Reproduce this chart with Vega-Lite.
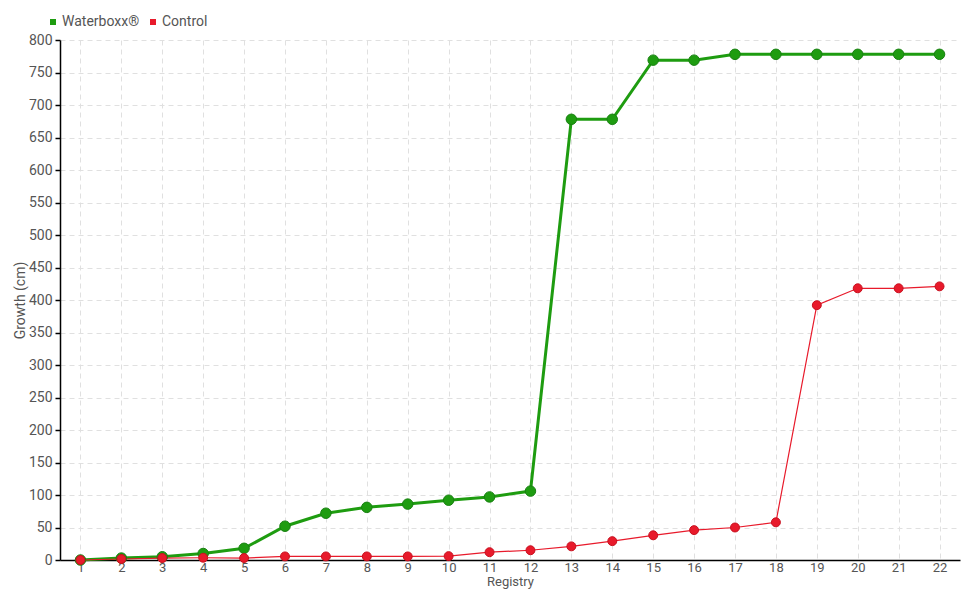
{
  "$schema": "https://vega.github.io/schema/vega-lite/v6.json",
  "width": 900,
  "height": 520,
  "autosize": {"type": "none"},
  "padding": {"left": 60, "top": 40, "right": 20, "bottom": 40},
  "background": "white",
  "config": {
    "view": {"stroke": null},
    "font": "Roboto",
    "axis": {"labelFont": "Roboto", "titleFont": "Roboto", "labelColor": "#555", "titleColor": "#555", "labelFontSize": 14, "titleFontSize": 14, "titleFontWeight": "normal", "gridColor": "#e0e0e0", "gridDash": [5, 4], "domainColor": "#000", "tickColor": "#000"}
  },
  "data": {
    "values": [
      {"registry": 1, "series": "Waterboxx®", "growth": 0},
      {"registry": 2, "series": "Waterboxx®", "growth": 3},
      {"registry": 3, "series": "Waterboxx®", "growth": 5},
      {"registry": 4, "series": "Waterboxx®", "growth": 10},
      {"registry": 5, "series": "Waterboxx®", "growth": 18},
      {"registry": 6, "series": "Waterboxx®", "growth": 52},
      {"registry": 7, "series": "Waterboxx®", "growth": 72},
      {"registry": 8, "series": "Waterboxx®", "growth": 81},
      {"registry": 9, "series": "Waterboxx®", "growth": 86},
      {"registry": 10, "series": "Waterboxx®", "growth": 92},
      {"registry": 11, "series": "Waterboxx®", "growth": 97},
      {"registry": 12, "series": "Waterboxx®", "growth": 106},
      {"registry": 13, "series": "Waterboxx®", "growth": 678},
      {"registry": 14, "series": "Waterboxx®", "growth": 678},
      {"registry": 15, "series": "Waterboxx®", "growth": 769},
      {"registry": 16, "series": "Waterboxx®", "growth": 769},
      {"registry": 17, "series": "Waterboxx®", "growth": 778},
      {"registry": 18, "series": "Waterboxx®", "growth": 778},
      {"registry": 19, "series": "Waterboxx®", "growth": 778},
      {"registry": 20, "series": "Waterboxx®", "growth": 778},
      {"registry": 21, "series": "Waterboxx®", "growth": 778},
      {"registry": 22, "series": "Waterboxx®", "growth": 778},
      {"registry": 1, "series": "Control", "growth": 0},
      {"registry": 2, "series": "Control", "growth": 1.5},
      {"registry": 3, "series": "Control", "growth": 3},
      {"registry": 4, "series": "Control", "growth": 3.5},
      {"registry": 5, "series": "Control", "growth": 3},
      {"registry": 6, "series": "Control", "growth": 5.5},
      {"registry": 7, "series": "Control", "growth": 5.5},
      {"registry": 8, "series": "Control", "growth": 5.5},
      {"registry": 9, "series": "Control", "growth": 5.5},
      {"registry": 10, "series": "Control", "growth": 6},
      {"registry": 11, "series": "Control", "growth": 12},
      {"registry": 12, "series": "Control", "growth": 15},
      {"registry": 13, "series": "Control", "growth": 21},
      {"registry": 14, "series": "Control", "growth": 29},
      {"registry": 15, "series": "Control", "growth": 38},
      {"registry": 16, "series": "Control", "growth": 46},
      {"registry": 17, "series": "Control", "growth": 50},
      {"registry": 18, "series": "Control", "growth": 58},
      {"registry": 19, "series": "Control", "growth": 392},
      {"registry": 20, "series": "Control", "growth": 418},
      {"registry": 21, "series": "Control", "growth": 418},
      {"registry": 22, "series": "Control", "growth": 421}
    ]
  },
  "encoding": {
    "x": {"field": "registry", "type": "ordinal", "sort": "ascending",
      "scale": {"type": "point", "padding": 0.5},
      "axis": {"title": "Registry", "labelAngle": 0, "tickSize": 0, "labelPadding": 1, "labelFontSize": 13, "titleY": 15, "titleBaseline": "top", "titleFontSize": 13, "grid": true, "domainWidth": 1.5}},
    "y": {"field": "growth", "type": "quantitative",
      "scale": {"domain": [0, 800], "nice": false},
      "axis": {"title": "Growth (cm)", "values": [0,50,100,150,200,250,300,350,400,450,500,550,600,650,700,750,800], "tickSize": 5, "labelPadding": 3, "titleX": -33, "titleY": 260, "titleAngle": -90, "titleBaseline": "bottom", "titleAlign": "center", "grid": true, "domainWidth": 1.5, "tickWidth": 1.5}},
    "color": {"field": "series", "type": "nominal",
      "scale": {"domain": ["Waterboxx®", "Control"], "range": ["#1e9c10", "#e81a2b"]},
      "legend": {"title": null, "orient": "none", "legendX": -14, "legendY": -25, "direction": "horizontal", "symbolType": "square", "symbolSize": 36, "symbolStrokeWidth": 0, "labelFontSize": 14, "labelColor": "#555", "labelFont": "Roboto", "columnPadding": 6, "symbolOffset": 0, "labelOffset": 2}}
  },
  "layer": [
    {
      "transform": [{"filter": "datum.series === 'Waterboxx®'"}],
      "mark": {"type": "line", "strokeWidth": 3}
    },
    {
      "transform": [{"filter": "datum.series === 'Control'"}],
      "mark": {"type": "line", "strokeWidth": 1.2}
    },
    {
      "transform": [{"filter": "datum.series === 'Waterboxx®'"}],
      "mark": {"type": "point", "filled": true, "opacity": 1, "strokeWidth": 1, "stroke": "#178010", "size": 110}
    },
    {
      "transform": [{"filter": "datum.series === 'Control'"}],
      "mark": {"type": "point", "filled": true, "opacity": 1, "strokeWidth": 1, "stroke": "#c8101f", "size": 80}
    }
  ]
}
